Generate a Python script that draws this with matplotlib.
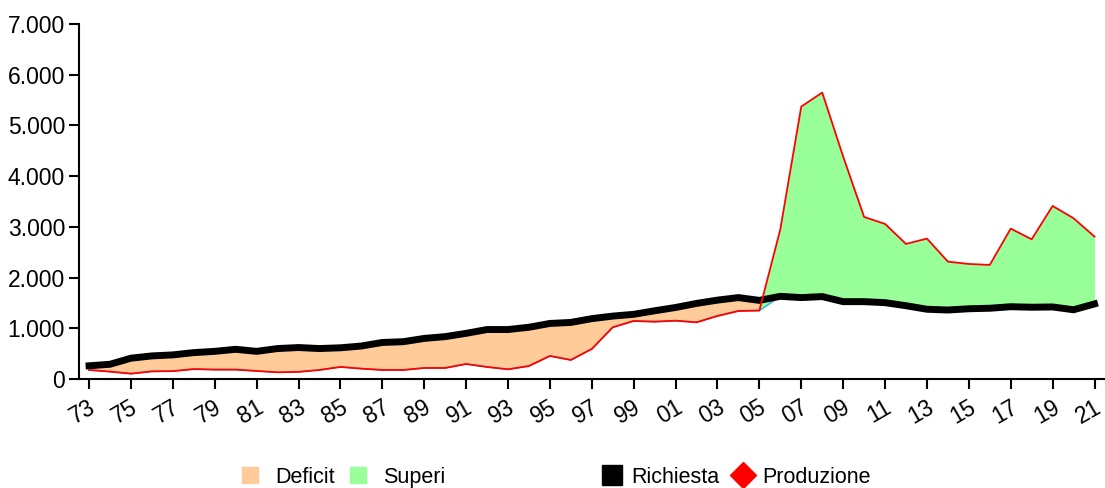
import numpy as np
import matplotlib
matplotlib.use("Agg")
import matplotlib.pyplot as plt
import matplotlib.transforms as mtransforms
from matplotlib.patches import Patch
from matplotlib.lines import Line2D
from matplotlib.ticker import FuncFormatter

plt.rcParams['font.family'] = ['Liberation Sans', 'DejaVu Sans']

years = list(range(1973, 2022))

richiesta = [260, 290, 410, 455, 475, 520, 545, 585, 545, 600,
             620, 600, 615, 650, 720, 735, 800, 835, 900, 975,
             975, 1020, 1095, 1115, 1190, 1240, 1275, 1345, 1410, 1490,
             1555, 1605, 1550, 1630, 1605, 1625, 1525, 1525, 1505, 1445,
             1375, 1360, 1385, 1395, 1425, 1415, 1420, 1365, 1480]

produzione = [178, 145, 105, 150, 155, 195, 185, 185, 158, 132,
              140, 178, 237, 204, 178, 178, 217, 217, 296, 237,
              191, 256, 454, 375, 592, 1019, 1144, 1130, 1150, 1117,
              1243, 1341, 1350, 2950, 5371, 5648, 4385, 3195, 3057, 2663,
              2768, 2314, 2268, 2249, 2965, 2754, 3412, 3169, 2807]

tick_years = years[::2]
tick_labels = ["%02d" % (y % 100) for y in tick_years]

x = np.array(years)
r = np.array(richiesta)
p = np.array(produzione)
base = np.minimum(r, p)

fig = plt.figure(figsize=(11.05, 4.88), dpi=100)
ax = fig.add_axes([0.0715, 0.2234, 0.9285, 0.7274])

# stacked-area look: base, deficit on top of it, surplus drawn last
ax.fill_between(x, base, r, color='#FFCC99', lw=0)
ax.fill_between(x, base, p, color='#99FF99', lw=0)
ax.plot(x, base, color='#1EB4F0', lw=1.0)
ax.plot(x, r, color='black', lw=5, solid_joinstyle='miter')
ax.plot(x, p, color='#FF0000', lw=1.3)

ax.set_ylim(0, 7000)
ax.set_xlim(1972.52, 2021.5)
ax.set_yticks(range(0, 7001, 1000))
ax.yaxis.set_major_formatter(FuncFormatter(lambda v, _: "{:,.0f}".format(v).replace(",", ".")))
ax.set_xticks(tick_years)
ax.set_xticklabels([])

# rotated year labels, nudged a little left of their ticks
off = ax.get_xaxis_transform() + mtransforms.ScaledTranslation(-6 / 100, -17 / 100, fig.dpi_scale_trans)
for yr, lab in zip(tick_years, tick_labels):
    ax.text(yr, 0, lab, transform=off, rotation=30, ha='center', va='top',
            fontsize=16.5, clip_on=False)

for s in ['top', 'right']:
    ax.spines[s].set_visible(False)
for s in ['left', 'bottom']:
    ax.spines[s].set_linewidth(1.5)
ax.tick_params(axis='both', labelsize=16.5, width=1.5, length=7, color='black')
ax.tick_params(axis='y', pad=3)

h1 = [Patch(color='#FFCC99'), Patch(color='#99FF99')]
fig.legend(h1, ['Deficit', 'Superi'], loc='center', bbox_to_anchor=(0.311, 0.022),
           ncol=2, frameon=False, fontsize=15.5, handlelength=0.75, handleheight=0.75,
           handletextpad=0.8, columnspacing=0.7)
h2 = [Line2D([], [], ls='', marker='s', ms=14, color='black'),
      Line2D([], [], ls='', marker='D', ms=13, color='#FF0000')]
fig.legend(h2, ['Richiesta', 'Produzione'], loc='center', bbox_to_anchor=(0.667, 0.022),
           ncol=2, frameon=False, fontsize=15.5, handlelength=0.8,
           handletextpad=0.5, columnspacing=0.7)

fig.savefig('out.png', dpi=100)
